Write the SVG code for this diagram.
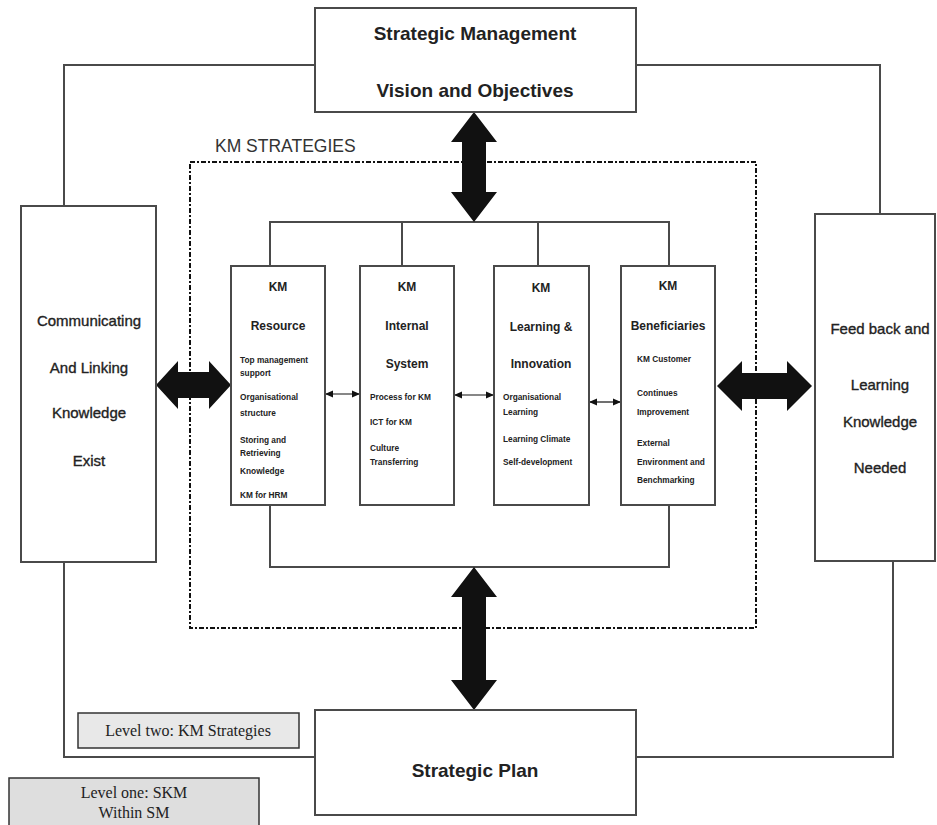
<svg xmlns="http://www.w3.org/2000/svg" width="937" height="825" viewBox="0 0 937 825">
<defs>
<marker id="ah" markerWidth="8" markerHeight="8" refX="7" refY="4" orient="auto-start-reverse" markerUnits="userSpaceOnUse">
<path d="M0,0.5 L8,4 L0,7.5 Z" fill="#111"/>
</marker>
</defs>
<style>
.box{fill:#fff;stroke:#4a4a4a;stroke-width:2}
.ln{fill:none;stroke:#4a4a4a;stroke-width:2}
.big{fill:#111}
.t{font-family:"Liberation Sans",Arial,sans-serif;fill:#222;text-anchor:middle}
.hd{font-size:19px;font-weight:bold}
.side{font-size:15px;stroke:#222;stroke-width:0.35}
.ih{font-size:12px;font-weight:bold}
.it{font-family:"Liberation Sans",Arial,sans-serif;fill:#222;font-size:8.3px;font-weight:bold}
.lv{font-family:"Liberation Serif","Times New Roman",serif;fill:#222;font-size:16px;text-anchor:middle}
</style>
<rect width="937" height="825" fill="#fff"/>

<g id="connectors">
<polyline class="ln" points="315,65 64,65 64,206"/>
<polyline class="ln" points="636,65 880,65 880,214"/>
<polyline class="ln" points="64,562 64,757 315,757"/>
<polyline class="ln" points="893,561 893,757 636,757"/>
<polyline class="ln" points="270,266 270,222 669,222 669,266"/>
<line class="ln" x1="402" y1="222" x2="402" y2="266"/>
<line class="ln" x1="538" y1="222" x2="538" y2="266"/>
<polyline class="ln" points="270,505 270,567 669,567 669,505"/>
<line x1="326" y1="394" x2="359" y2="394" stroke="#111" stroke-width="1.2" marker-start="url(#ah)" marker-end="url(#ah)"/>
<line x1="455" y1="395" x2="493" y2="395" stroke="#111" stroke-width="1.2" marker-start="url(#ah)" marker-end="url(#ah)"/>
<line x1="590" y1="402" x2="620" y2="402" stroke="#111" stroke-width="1.2" marker-start="url(#ah)" marker-end="url(#ah)"/>
</g>

<g id="km-strategies">
<rect x="190" y="162" width="566" height="466" fill="none" stroke="#111" stroke-width="2" stroke-dasharray="5,2,2,2"/>
<text x="215" y="152" font-family="Liberation Sans,Arial,sans-serif" font-size="17.5" fill="#333">KM STRATEGIES</text>
</g>

<g id="big-arrows">
<polygon class="big" points="474,112 497,142 486,142 486,192 497,192 474,222 451,192 462,192 462,142 451,142"/>
<polygon class="big" points="474,567 497,597 486,597 486,680 497,680 474,710 451,680 462,680 462,597 451,597"/>
<polygon class="big" points="156,385 178,361 178,372 209,372 209,361 231,385 209,409 209,398 178,398 178,409"/>
<polygon class="big" points="717,386 742,361 742,373 787,373 787,361 812,386 787,411 787,399 742,399 742,411"/>
</g>

<g id="strategic-management">
<rect class="box" x="315" y="8" width="321" height="104"/>
<text class="t hd" x="475" y="40">Strategic Management</text>
<text class="t hd" x="475" y="97">Vision and Objectives</text>
</g>

<g id="strategic-plan">
<rect class="box" x="315" y="710" width="321" height="105"/>
<text class="t hd" x="475" y="777">Strategic Plan</text>
</g>

<g id="communicating">
<rect class="box" x="21" y="206" width="135" height="356"/>
<text class="t side" x="89" y="326">Communicating</text>
<text class="t side" x="89" y="373">And Linking</text>
<text class="t side" x="89" y="418">Knowledge</text>
<text class="t side" x="89" y="466">Exist</text>
</g>

<g id="feedback">
<rect class="box" x="815" y="214" width="120" height="347"/>
<text class="t side" x="880" y="334">Feed back and</text>
<text class="t side" x="880" y="390">Learning</text>
<text class="t side" x="880" y="427">Knowledge</text>
<text class="t side" x="880" y="473">Needed</text>
</g>

<g id="km-resource">
<rect class="box" x="231" y="266" width="94" height="239"/>
<text class="t ih" x="278" y="291">KM</text>
<text class="t ih" x="278" y="330">Resource</text>
<text class="it" x="240" y="363">Top management</text>
<text class="it" x="240" y="376">support</text>
<text class="it" x="240" y="400">Organisational</text>
<text class="it" x="240" y="416">structure</text>
<text class="it" x="240" y="443">Storing and</text>
<text class="it" x="240" y="456">Retrieving</text>
<text class="it" x="240" y="474">Knowledge</text>
<text class="it" x="240" y="498">KM for HRM</text>
</g>

<g id="km-internal">
<rect class="box" x="360" y="266" width="94" height="239"/>
<text class="t ih" x="407" y="291">KM</text>
<text class="t ih" x="407" y="330">Internal</text>
<text class="t ih" x="407" y="368">System</text>
<text class="it" x="370" y="400">Process for KM</text>
<text class="it" x="370" y="425">ICT for KM</text>
<text class="it" x="370" y="451">Culture</text>
<text class="it" x="370" y="465">Transferring</text>
</g>

<g id="km-learning">
<rect class="box" x="494" y="266" width="95" height="239"/>
<text class="t ih" x="541" y="292">KM</text>
<text class="t ih" x="541" y="331">Learning &amp;</text>
<text class="t ih" x="541" y="368">Innovation</text>
<text class="it" x="503" y="400">Organisational</text>
<text class="it" x="503" y="415">Learning</text>
<text class="it" x="503" y="442">Learning Climate</text>
<text class="it" x="503" y="465">Self-development</text>
</g>

<g id="km-beneficiaries">
<rect class="box" x="621" y="266" width="94" height="239"/>
<text class="t ih" x="668" y="290">KM</text>
<text class="t ih" x="668" y="330">Beneficiaries</text>
<text class="it" x="637" y="362">KM Customer</text>
<text class="it" x="637" y="396">Continues</text>
<text class="it" x="637" y="415">Improvement</text>
<text class="it" x="637" y="446">External</text>
<text class="it" x="637" y="465">Environment and</text>
<text class="it" x="637" y="483">Benchmarking</text>
</g>

<g id="level-two">
<rect x="78" y="713" width="221" height="35" fill="#e8e8e8" stroke="#333" stroke-width="1.5"/>
<text class="lv" x="188" y="736">Level two: KM Strategies</text>
</g>

<g id="level-one">
<rect x="9" y="778" width="250" height="55" fill="#dedede" stroke="#333" stroke-width="1.5"/>
<text class="lv" x="134" y="798">Level one: SKM</text>
<text class="lv" x="134" y="818">Within SM</text>
</g>
</svg>
